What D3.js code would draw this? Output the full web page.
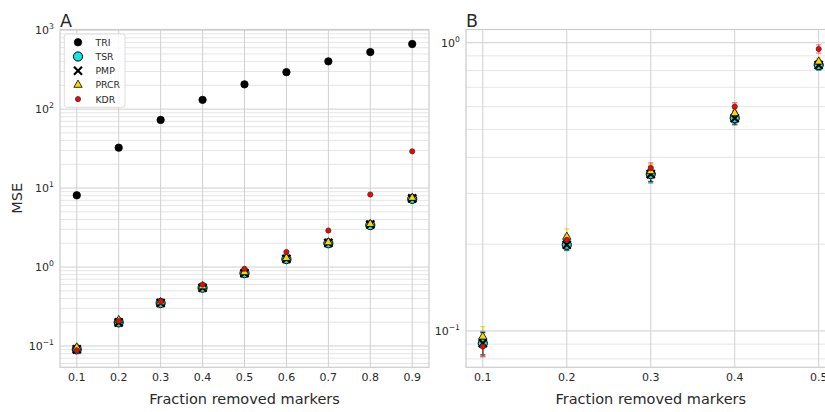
<!DOCTYPE html>
<html>
<head>
<meta charset="utf-8">
<script src="https://cdn.jsdelivr.net/npm/d3@7"></script>
<style>
  body { margin: 0; background: #fff; }
  text { font-family: "DejaVu Sans", sans-serif; fill: #2a2a2a; }
</style>
</head>
<body>
<div id="chart"></div>
<script>
// fraction of markers removed
var fractions = [0.1, 0.2, 0.3, 0.4, 0.5, 0.6, 0.7, 0.8, 0.9];

// MSE per method
var triMSE  = [8.1, 32.5, 73, 131, 206, 294, 403, 528, 668];
var tsrMSE  = [0.0906, 0.199, 0.350, 0.547, 0.837, 1.26, 2.0, 3.4, 7.3];
var pmpMSE  = [0.0906, 0.199, 0.350, 0.547, 0.837, 1.27, 2.02, 3.45, 7.4];
var prcrMSE = [0.0955, 0.212, 0.358, 0.569, 0.859, 1.3, 2.05, 3.5, 7.5];
var kdrMSE  = [0.0883, 0.207, 0.367, 0.600, 0.951, 1.55, 2.9, 8.3, 29.2];

// spread (only visible in the zoomed panel B)
var tsrErr  = [0.009, 0.009, 0.024, 0.029, 0.033];
var pmpErr  = [0.008, 0.008, 0.020, 0.025, 0.030];
var prcrErr = [0.008, 0.014, 0.020, 0.020, 0.025];
var kdrErr  = [0.007, 0.008, 0.016, 0.019, 0.031];

var methods = ["TRI", "TSR", "PMP", "PRCR", "KDR"];

var W = 825, H = 412;
var svg = d3.select("#chart").append("svg")
    .attr("width", W).attr("height", H);

var series = [
  {name: "TRI",  vals: triMSE,  err: null,    sym: d3.symbolCircle,   size: 43, fill: "#000", stroke: "#000", sw: 0.8, ecol: "#000"},
  {name: "TSR",  vals: tsrMSE,  err: tsrErr,  sym: d3.symbolCircle,   size: 66, fill: "#14e6e6", stroke: "#000", sw: 1, ecol: "#0aa6a6"},
  {name: "PMP",  vals: pmpMSE,  err: pmpErr,  sym: d3.symbolTimes || d3.symbolX, size: 44, fill: "none", stroke: "#000", sw: 2.2, ecol: "#000"},
  {name: "PRCR", vals: prcrMSE, err: prcrErr, sym: d3.symbolTriangle, size: 30, fill: "#ffd700", stroke: "#000", sw: 0.8, ecol: "#f2c400"},
  {name: "KDR",  vals: kdrMSE,  err: kdrErr,  sym: d3.symbolCircle,   size: 21, fill: "#ff0000", stroke: "#333", sw: 0.8, ecol: "#ff4040"}
];

function drawPanel(opt) {
  var g = svg.append("g");
  var x = d3.scaleLinear().domain(opt.xdom).range([opt.left, opt.right]);
  var y = d3.scaleLog().domain(opt.ydom).range([opt.bottom, opt.top]);

  // minor grid
  var minor = [];
  for (var e = -3; e <= 3; e++) {
    for (var m = 2; m <= 9; m++) {
      var v = m * Math.pow(10, e);
      if (v > opt.ydom[0] && v < opt.ydom[1]) minor.push(v);
    }
  }
  g.append("g").selectAll("line").data(minor).enter().append("line")
    .attr("x1", opt.left).attr("x2", opt.right)
    .attr("y1", d => y(d)).attr("y2", d => y(d))
    .attr("stroke", "#dedede").attr("stroke-width", 0.8);

  // major grid
  g.append("g").selectAll("line").data(opt.ymajor).enter().append("line")
    .attr("x1", opt.left).attr("x2", opt.right)
    .attr("y1", d => y(d)).attr("y2", d => y(d))
    .attr("stroke", "#d0d0d0").attr("stroke-width", 1);
  g.append("g").selectAll("line").data(opt.xticks).enter().append("line")
    .attr("x1", d => x(d)).attr("x2", d => x(d))
    .attr("y1", opt.top).attr("y2", opt.bottom)
    .attr("stroke", "#d0d0d0").attr("stroke-width", 1);

  // frame
  g.append("rect")
    .attr("x", opt.left).attr("y", opt.top)
    .attr("width", opt.right - opt.left).attr("height", opt.bottom - opt.top)
    .attr("fill", "none").attr("stroke", "#cccccc").attr("stroke-width", 1.2);

  // x tick labels
  g.append("g").selectAll("text").data(opt.xticks).enter().append("text")
    .attr("x", d => x(d)).attr("y", opt.bottom + 13.5)
    .attr("text-anchor", "middle").attr("font-size", "11px")
    .text(d => d3.format(".1f")(d));

  // y tick labels 10^n
  var yl = g.append("g").selectAll("text").data(opt.ymajor).enter().append("text")
    .attr("x", opt.left - 6).attr("y", d => y(d) + 4)
    .attr("text-anchor", "end").attr("font-size", "11px");
  yl.append("tspan").text("10");
  yl.append("tspan").attr("dy", -5).attr("font-size", "7.7px")
    .text(d => String(Math.round(Math.log10(d))).replace("-", "\u2212"));

  // labels
  g.append("text").attr("x", (opt.left + opt.right) / 2).attr("y", 404)
    .attr("text-anchor", "middle").attr("font-size", "14.5px")
    .text("Fraction removed markers");
  g.append("text").attr("x", opt.left).attr("y", 26.5)
    .attr("font-size", "17.5px").text(opt.title);

  var n = opt.count;
  var clipId = "clip" + opt.title;
  svg.append("clipPath").attr("id", clipId).append("rect")
    .attr("x", opt.left - 10).attr("y", opt.top - 10)
    .attr("width", opt.right - opt.left + 20).attr("height", opt.bottom - opt.top + 20);
  var marks = g.append("g").attr("clip-path", "url(#" + clipId + ")");

  // error bars
  if (opt.errors) {
    series.forEach(function(s) {
      if (!s.err) return;
      var pts = d3.range(n).map(i => ({x: fractions[i], v: s.vals[i], e: s.err[i]}));
      var eg = marks.append("g").attr("stroke", s.ecol).attr("stroke-opacity", 0.7).attr("stroke-width", 1.3);
      eg.selectAll("line.v").data(pts).enter().append("line")
        .attr("x1", d => x(d.x)).attr("x2", d => x(d.x))
        .attr("y1", d => y(d.v - d.e)).attr("y2", d => y(d.v + d.e));
      [-1, 1].forEach(function(sg) {
        eg.selectAll("line.c" + sg).data(pts).enter().append("line")
          .attr("x1", d => x(d.x) - 2.6).attr("x2", d => x(d.x) + 2.6)
          .attr("y1", d => y(d.v + sg * d.e)).attr("y2", d => y(d.v + sg * d.e));
      });
    });
  }

  // markers
  series.forEach(function(s) {
    var pts = d3.range(n).map(i => ({x: fractions[i], v: s.vals[i]}))
      .filter(d => d.v >= opt.ydom[0] && d.v <= opt.ydom[1]);
    marks.append("g").selectAll("path").data(pts).enter().append("path")
      .attr("d", d3.symbol().type(s.sym).size(s.size))
      .attr("transform", d => "translate(" + x(d.x) + "," + y(d.v) + ")")
      .attr("fill", s.fill).attr("stroke", s.stroke).attr("stroke-width", s.sw);
  });
  return g;
}

var panelA = drawPanel({
  title: "A", left: 60, right: 429, top: 29.5, bottom: 367.3,
  xdom: [0.06, 0.94], ydom: [0.0537, 1020],
  xticks: fractions, ymajor: [0.1, 1, 10, 100, 1000], count: 9, errors: false
});

drawPanel({
  title: "B", left: 466, right: 835.5, top: 29.5, bottom: 367.3,
  xdom: [0.08, 0.52], ydom: [0.0748, 1.111],
  xticks: [0.1, 0.2, 0.3, 0.4, 0.5], ymajor: [0.1, 1], count: 5, errors: true
});

// y label
svg.append("text")
  .attr("transform", "translate(22,198.4) rotate(-90)")
  .attr("text-anchor", "middle").attr("font-size", "14.5px")
  .text("MSE");

// legend in panel A
var leg = svg.append("g").attr("transform", "translate(64.3,34)");
leg.append("rect").attr("width", 60.7).attr("height", 73.3).attr("rx", 2.5)
  .attr("fill", "#fff").attr("fill-opacity", 0.85)
  .attr("stroke", "#dddddd").attr("stroke-width", 1);
var items = leg.selectAll("g.item").data(series).enter().append("g")
  .attr("transform", (d, i) => "translate(13.7," + (8.3 + i * 14.2) + ")");
items.append("path")
  .attr("d", d => d3.symbol().type(d.sym).size(d.size)())
  .attr("fill", d => d.fill).attr("stroke", d => d.stroke).attr("stroke-width", d => d.sw);
items.append("text").attr("x", 17.5).attr("y", 3.4)
  .attr("font-size", "9.3px").text(d => d.name);
</script>
</body>
</html>
